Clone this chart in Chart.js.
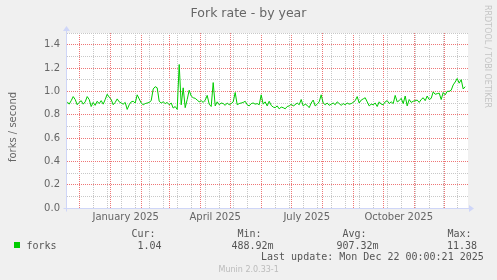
<!DOCTYPE html>
<html>
<head>
<meta charset="utf-8">
<title>Fork rate - by year</title>
<script src="https://cdn.jsdelivr.net/npm/chart.js@4.4.1/dist/chart.umd.min.js"></script>
<style>
  html, body { margin: 0; padding: 0; background: #f0f0f0; }
  #wrap { width: 497px; height: 280px; }
</style>
</head>
<body>
<div id="wrap"><canvas id="chart" width="497" height="280"></canvas></div>
<script>
// ---- chart data ----
const chartTitle = 'Fork rate - by year';
const yAxisTitle = 'forks / second';
const seriesLabel = 'forks';

// x is in days counted from 1 Dec 2024, one sample every 2 days
const startDay = -12;
const stepDays = 2;
const forkRate = [
  0.91, 0.89, 0.92, 0.955, 0.93, 0.885, 0.905, 0.92, 0.89, 0.91,
  0.955, 0.93, 0.87, 0.905, 0.88, 0.915, 0.895, 0.92, 0.89, 0.93,
  0.975, 0.95, 0.93, 0.885, 0.905, 0.935, 0.91, 0.90, 0.89, 0.905,
  0.845, 0.885, 0.91, 0.915, 0.90, 0.97, 0.935, 0.90, 0.885, 0.895,
  0.90, 0.905, 0.92, 1.02, 1.04, 1.03, 0.915, 0.90, 0.91, 0.895,
  0.905, 0.885, 0.90, 0.857, 0.87, 0.845, 1.23, 0.885, 1.03, 0.86,
  0.93, 1.01, 0.96, 0.945, 0.94, 0.925, 0.91, 0.92, 0.905, 0.925,
  0.965, 0.89, 0.87, 1.075, 0.875, 0.91, 0.885, 0.90, 0.895, 0.88,
  0.90, 0.885, 0.895, 0.91, 0.99, 0.885, 0.895, 0.90, 0.905, 0.915,
  0.885, 0.875, 0.895, 0.90, 0.89, 0.895, 0.885, 0.97, 0.89, 0.91,
  0.875, 0.915, 0.88, 0.865, 0.86, 0.875, 0.85, 0.865, 0.86, 0.85,
  0.87, 0.875, 0.89, 0.875, 0.885, 0.90, 0.885, 0.93, 0.875, 0.89,
  0.88, 0.86, 0.90, 0.925, 0.875, 0.89, 0.91, 0.97, 0.90, 0.885,
  0.90, 0.88, 0.89, 0.90, 0.885, 0.91, 0.895, 0.88, 0.895, 0.885,
  0.90, 0.89, 0.895, 0.905, 0.92, 0.955, 0.90, 0.925, 0.935, 0.945,
  0.91, 0.875, 0.89, 0.885, 0.90, 0.87, 0.91, 0.89, 0.885, 0.91,
  0.92, 0.895, 0.91, 0.895, 0.965, 0.91, 0.92, 0.94, 0.895, 0.96,
  0.875, 0.93, 0.905, 0.915, 0.92, 0.925, 0.905, 0.93, 0.945, 0.92,
  0.96, 0.93, 0.94, 0.995, 0.975, 0.98, 0.985, 0.93, 0.99, 0.97,
  1.00, 1.00, 1.01, 1.055, 1.08, 1.11, 1.07, 1.10, 1.02, 1.04
];

const monthStartDays = [0, 31, 62, 90, 121, 151, 182, 212, 243, 274, 304, 335, 365];
const minorGridDays = [14, 28, 42, 56, 70, 84, 98, 112, 126, 140, 154, 168, 182, 196,
  210, 224, 238, 252, 266, 280, 294, 308, 322, 336, 350, 364, 378];
const xTickLabels = ['January 2025', 'April 2025', 'July 2025', 'October 2025'];
const xLabelDays = [46.5, 136, 227.5, 319.5];
const xMin = -12.2;
const xMax = 388.8;

const yMajorValues = [0, 0.2, 0.4, 0.6, 0.8, 1.0, 1.2, 1.4];
const yTickLabels = ['0.0', '0.2', '0.4', '0.6', '0.8', '1.0', '1.2', '1.4'];
const yMinorValues = [0.1, 0.3, 0.5, 0.7, 0.9, 1.1, 1.3, 1.5];

const legendHeaders = ['Cur:', 'Min:', 'Avg:', 'Max:'];
const legendValues = ['1.04', '488.92m', '907.32m', '11.38'];
const lastUpdate = 'Last update: Mon Dec 22 00:00:21 2025';
const versionText = 'Munin 2.0.33-1';
const watermark = 'RRDTOOL / TOBI OETIKER';

// ---- styles ----
const LINE_GREEN = '#00cc00';
const GRID_RED = 'rgb(238, 118, 118)';
const GRID_GREY = 'rgb(200, 200, 200)';
const AXIS_BLUE = '#cfd6f8';
const FONT_COL = '#666666';
const AXIS_FONT = { family: 'DejaVu Sans', size: 10 };

// one scale per grid colour: red majors, grey minors, plus a label-only x scale
function gridScale(axis, values, color, fitSize) {
  return {
    type: 'linear',
    axis: axis,
    position: axis === 'x' ? 'bottom' : 'left',
    min: axis === 'x' ? xMin : 0,
    max: axis === 'x' ? xMax : 1.5,
    afterBuildTicks: scale => { scale.ticks = values.map(v => ({ value: v })); },
    afterFit: scale => {
      if (axis === 'x') scale.height = fitSize; else scale.width = fitSize;
    },
    grid: { drawTicks: false, lineWidth: 1, color: color },
    border: { display: false, dash: [1, 1] },
    ticks: { display: false }
  };
}

// background, axes, title and the munin legend
const muninFrame = {
  id: 'muninFrame',
  beforeDraw(chart) {
    const { ctx, chartArea: a } = chart;
    ctx.save();
    ctx.fillStyle = '#f0f0f0';
    ctx.fillRect(0, 0, chart.width, chart.height);
    ctx.fillStyle = '#ffffff';
    ctx.fillRect(a.left, a.top, a.right - a.left, a.bottom - a.top);
    ctx.restore();
  },
  afterDraw(chart) {
    const { ctx, chartArea: a } = chart;
    const ax = Math.floor(a.left) - 0.5;
    const ay = Math.floor(a.bottom) + 0.5;
    ctx.save();

    // axes + arrows
    ctx.strokeStyle = AXIS_BLUE;
    ctx.fillStyle = AXIS_BLUE;
    ctx.lineWidth = 1;
    ctx.beginPath();
    ctx.moveTo(ax - 3, ay);
    ctx.lineTo(a.right + 2, ay);
    ctx.moveTo(ax, ay + 3);
    ctx.lineTo(ax, a.top - 3);
    ctx.stroke();
    ctx.beginPath();
    ctx.moveTo(a.right + 1, ay - 3.5);
    ctx.lineTo(a.right + 6, ay);
    ctx.lineTo(a.right + 1, ay + 3.5);
    ctx.closePath();
    ctx.fill();
    ctx.beginPath();
    ctx.moveTo(ax - 3.5, a.top - 2);
    ctx.lineTo(ax, a.top - 7);
    ctx.lineTo(ax + 3.5, a.top - 2);
    ctx.closePath();
    ctx.fill();

    // title
    ctx.fillStyle = FONT_COL;
    ctx.font = '12.5px "DejaVu Sans"';
    ctx.textAlign = 'center';
    ctx.textBaseline = 'alphabetic';
    ctx.fillText(chartTitle, 248.5, 17);

    // y axis title
    ctx.save();
    ctx.translate(16, 127);
    ctx.rotate(-Math.PI / 2);
    ctx.font = '10px "DejaVu Sans"';
    ctx.fillText(yAxisTitle, 0, 0);
    ctx.restore();

    // watermark on the right
    ctx.save();
    ctx.translate(485, 5);
    ctx.rotate(Math.PI / 2);
    ctx.textAlign = 'left';
    ctx.fillStyle = '#c4c4c4';
    ctx.font = '8px "DejaVu Sans"';
    ctx.fillText(watermark, 0, 0);
    ctx.restore();

    // legend
    ctx.fillStyle = LINE_GREEN;
    ctx.fillRect(14, 242, 6, 6);
    ctx.fillStyle = '#555555';
    ctx.font = '10px "DejaVu Sans Mono"';
    ctx.textAlign = 'left';
    ctx.fillText(seriesLabel, 26.5, 248.5);
    const headX = [131.5, 237.5, 342.5, 447.5];
    const valX = [137.5, 231.5, 336.5, 447];
    legendHeaders.forEach((t, i) => ctx.fillText(t, headX[i], 236.7));
    legendValues.forEach((t, i) => ctx.fillText(t, valX[i], 248.5));
    ctx.fillText(lastUpdate, 261, 260.3);

    ctx.fillStyle = '#bbbbbb';
    ctx.font = '8px "DejaVu Sans"';
    ctx.fillText(versionText, 218.5, 272.3);
    ctx.restore();
  }
};

const points = forkRate.map((v, i) => ({ x: startDay + i * stepDays, y: v }));

new Chart(document.getElementById('chart').getContext('2d'), {
  type: 'line',
  data: {
    datasets: [{
      label: seriesLabel,
      data: points,
      xAxisID: 'x',
      yAxisID: 'y',
      borderColor: LINE_GREEN,
      borderWidth: 1,
      pointRadius: 0,
      tension: 0,
      fill: false
    }]
  },
  options: {
    responsive: false,
    animation: false,
    devicePixelRatio: 1,
    // whole-pixel chart area so the 1-on-1-off dots stay crisp
    layout: { padding: { top: 33, right: 29, bottom: 0, left: 0 } },
    plugins: {
      legend: { display: false },
      title: { display: false },
      tooltip: { enabled: false }
    },
    scales: {
      xMinor: gridScale('x', minorGridDays, GRID_GREY, 0),
      xMonth: gridScale('x', monthStartDays, GRID_RED, 0),
      x: {
        type: 'linear',
        position: 'bottom',
        min: xMin,
        max: xMax,
        afterBuildTicks: scale => { scale.ticks = xLabelDays.map(v => ({ value: v })); },
        afterFit: scale => { scale.height = 72; },
        grid: { display: false, drawTicks: false },
        border: { display: false },
        ticks: {
          autoSkip: false,
          maxRotation: 0,
          padding: 3,
          color: FONT_COL,
          font: AXIS_FONT,
          callback: (v, i) => xTickLabels[i]
        }
      },
      yMinor: gridScale('y', yMinorValues, GRID_GREY, 0),
      y: {
        type: 'linear',
        position: 'left',
        min: 0,
        max: 1.5,
        afterBuildTicks: scale => { scale.ticks = yMajorValues.map(v => ({ value: v })); },
        afterFit: scale => { scale.width = 67; },
        grid: { drawTicks: false, lineWidth: 1, color: GRID_RED },
        border: { display: false, dash: [1, 1] },
        ticks: {
          autoSkip: false,
          padding: 7,
          color: FONT_COL,
          font: AXIS_FONT,
          callback: (v, i) => yTickLabels[i]
        }
      }
    }
  },
  plugins: [muninFrame]
});
</script>
</body>
</html>
